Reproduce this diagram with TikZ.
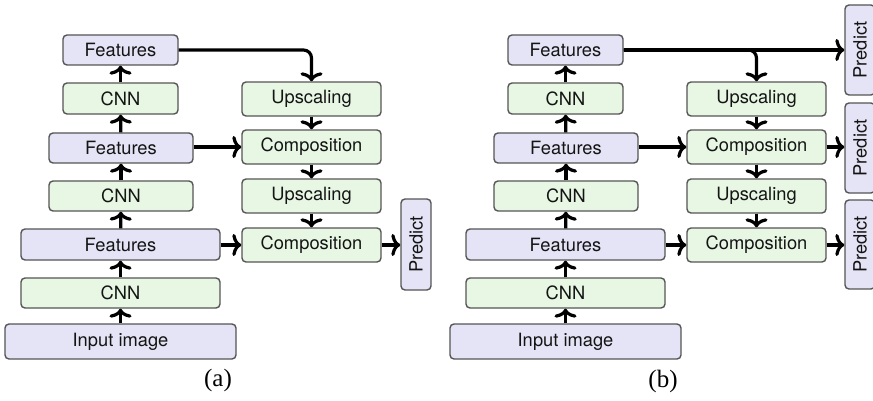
\documentclass[tikz,border=0pt]{standalone}
\usepackage{fontspec}
\setmainfont{Liberation Serif}
\newfontfamily\boxfont{TeX Gyre Heros}
\usetikzlibrary{arrows.meta}

\definecolor{featfill}{RGB}{228,228,246}
\definecolor{opfill}{RGB}{232,247,228}
\definecolor{edge}{RGB}{85,85,85}
\definecolor{ink}{RGB}{20,20,20}

\tikzset{
  box/.style={draw=edge, line width=1.4pt, rounded corners=4pt, inner sep=0pt,
    text=ink, font=\boxfont\fontsize{18.3}{20}\selectfont},
  featbox/.style={box, fill=featfill},
  opbox/.style={box, fill=opfill},
  predbox/.style={box, fill=featfill, rotate=90, minimum height=30pt},
  flow/.style={draw=black, line width=3.2pt,
    -{Computer Modern Rightarrow[length=9pt,width=22pt]}},
  caption/.style={font=\fontsize{25}{27}\selectfont}
}

% Encoder stack and decoder column shared by both panels
\newcommand\encdec{%
  \node[featbox, minimum width=115pt, minimum height=30pt] (feat1) at (120.5,50) {Features};
  \node[opbox,   minimum width=115pt, minimum height=31pt] (cnn1)  at (120.5,98.5) {CNN};
  \node[featbox, minimum width=144pt, minimum height=30pt] (feat2) at (121,148) {Features};
  \node[opbox,   minimum width=144pt, minimum height=30pt] (cnn2)  at (121,196) {CNN};
  \node[featbox, minimum width=199pt, minimum height=31pt] (feat3) at (120.5,244.5) {Features};
  \node[opbox,   minimum width=199pt, minimum height=30pt] (cnn3)  at (120.5,293) {CNN};
  \node[featbox, minimum width=231pt, minimum height=35pt] (input) at (120.5,341.5) {Input image};
  \node[opbox, minimum width=139pt, minimum height=34pt] (up1)   at (311.5,99) {Upscaling};
  \node[opbox, minimum width=139pt, minimum height=34pt] (comp1) at (311.5,147) {Composition};
  \node[opbox, minimum width=139pt, minimum height=34pt] (up2)   at (311.5,196) {Upscaling};
  \node[opbox, minimum width=139pt, minimum height=34pt] (comp2) at (311.5,245) {Composition};
  \draw[flow] (input) -- (cnn3);
  \draw[flow] (cnn3) -- (feat3);
  \draw[flow] (feat3) -- (cnn2);
  \draw[flow] (cnn2) -- (feat2);
  \draw[flow] (feat2) -- (cnn1);
  \draw[flow] (cnn1) -- (feat1);
  \draw[flow, rounded corners=8pt] (feat1.east) -| (up1.north);
  \draw[flow] (up1) -- (comp1);
  \draw[flow] (comp1) -- (up2);
  \draw[flow] (up2) -- (comp2);
  \draw[flow] (feat2.east |- comp1.west) -- (comp1.west);
  \draw[flow] (feat3.east |- comp2.west) -- (comp2.west);
}

\begin{document}
\begin{tikzpicture}[x=1pt, y=-1pt]
  \useasboundingbox (0,0) rectangle (873,401);

  % (a) single prediction from the finest composition
  \begin{scope}[name prefix=a-]
    \encdec
    \node[predbox, minimum width=91pt] (pred) at (416,244.5) {Predict};
    \draw[flow] (comp2.east) -- (comp2.east -| pred.north);
    \node[caption] (lbl) at (218,380) {(a)};
  \end{scope}

  % (b) a prediction at every scale
  \begin{scope}[name prefix=b-, xshift=445pt]
    \encdec
    \node[predbox, minimum width=90pt] (pred1) at (415,50) {Predict};
    \node[predbox, minimum width=90pt] (pred2) at (415,148) {Predict};
    \node[predbox, minimum width=89pt] (pred3) at (415,244.5) {Predict};
    \draw[flow] (feat1.east) -- (feat1.east -| pred1.north);
    \draw[flow] (comp1.east) -- (comp1.east -| pred2.north);
    \draw[flow] (comp2.east) -- (comp2.east -| pred3.north);
    \node[caption] (lbl) at (218,381) {(b)};
  \end{scope}
\end{tikzpicture}
\end{document}
